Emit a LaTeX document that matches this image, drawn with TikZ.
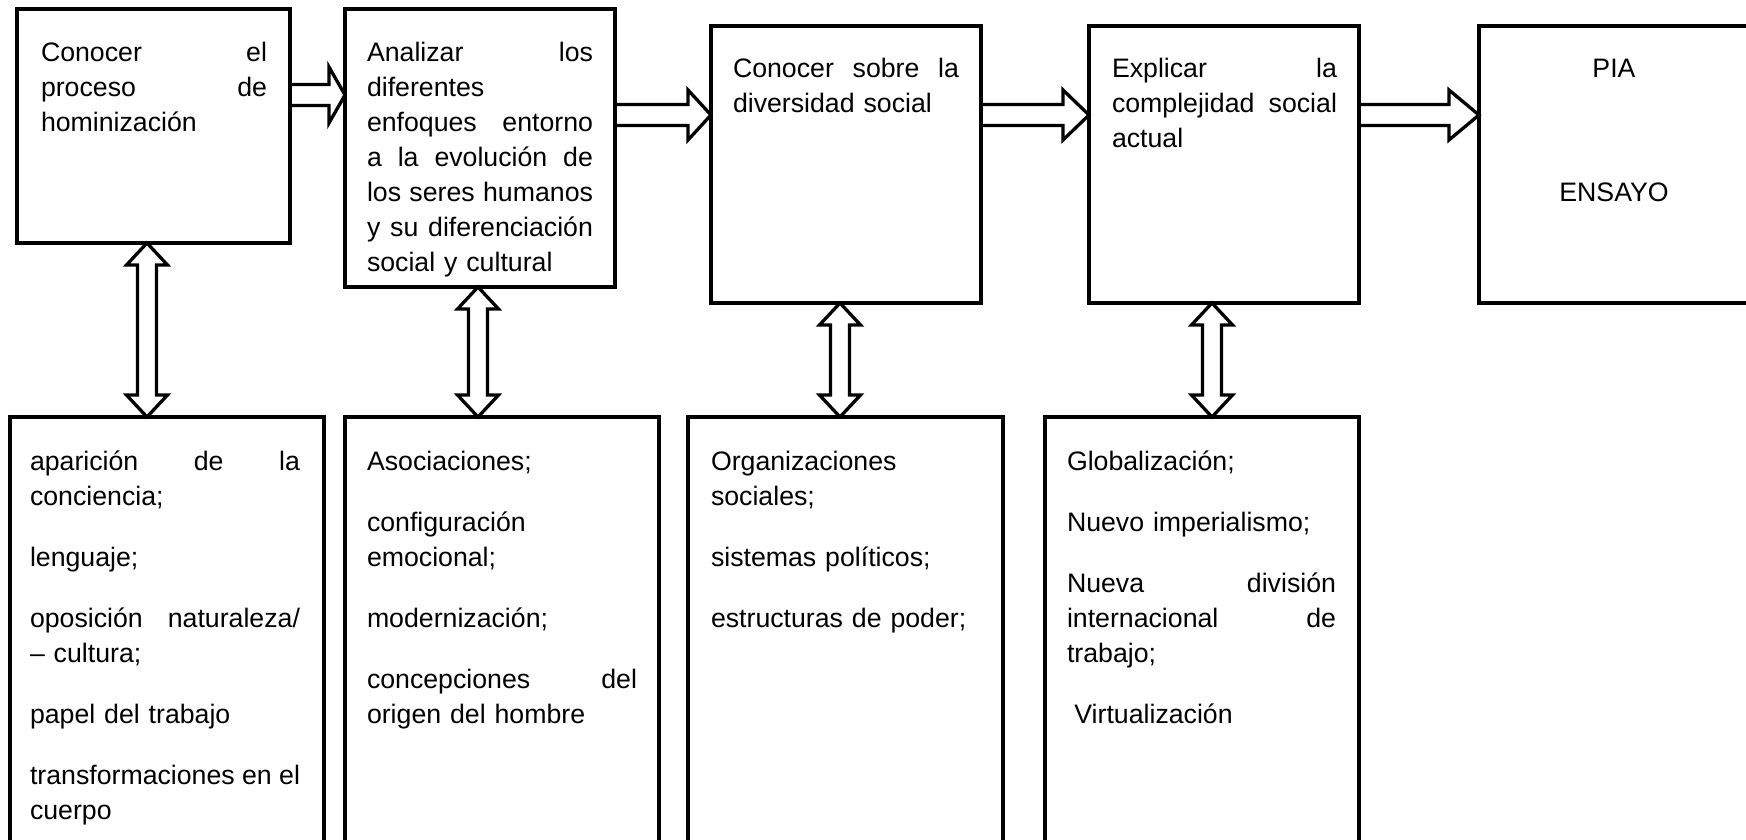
\documentclass[tikz,border=0pt]{standalone}
\usepackage{fontspec}
\setmainfont{Liberation Sans}
\usetikzlibrary{calc}
% a justified line: words separated by \hfill, set to the given width
\newcommand\JJ[2][226pt]{\leavevmode\hbox to #1{#2}}
\tikzset{
  x=1pt, y=1pt,
  box/.style={draw, line width=3.3pt, inner sep=0pt, outer sep=0pt, anchor=north west},
  txt/.style={inner sep=0pt, outer sep=0pt, anchor=north west, align=left,
              font=\fontsize{26.7}{35}\selectfont},
  ctxt/.style={txt, align=center},
  blk/.style={draw, line width=3.3pt, line join=miter},
}
% horizontal block arrow: from node, to node, centre y (px), head length, head half-height
\newcommand\harr[5]{\draw[blk] let \p1=(#1.east), \p2=(#2.west) in
  (\x1,{-#3pt+10.5pt}) -- ({\x2-#4pt},{-#3pt+10.5pt}) -- ({\x2-#4pt},{-#3pt+#5pt})
  -- (\x2,{-#3pt}) -- ({\x2-#4pt},{-#3pt-#5pt}) -- ({\x2-#4pt},{-#3pt-10.5pt})
  -- (\x1,{-#3pt-10.5pt});}
% vertical double block arrow: upper node, lower node, centre x (px)
\newcommand\varr[3]{\draw[blk] let \p1=(#1.south), \p2=(#2.north) in
  (#3pt,\y1) -- ({#3pt+20.5pt},{\y1-22pt}) -- ({#3pt+9.5pt},{\y1-22pt})
  -- ({#3pt+9.5pt},{\y2+22pt}) -- ({#3pt+20.5pt},{\y2+22pt}) -- (#3pt,\y2)
  -- ({#3pt-20.5pt},{\y2+22pt}) -- ({#3pt-9.5pt},{\y2+22pt})
  -- ({#3pt-9.5pt},{\y1-22pt}) -- ({#3pt-20.5pt},{\y1-22pt}) -- cycle;}
\begin{document}
\begin{tikzpicture}
\useasboundingbox (0,0) rectangle (1746,-840);
\clip (0,0) rectangle (1746,-840);
% top row boxes
\node[box, minimum width=273pt, minimum height=234pt] (t1) at (17,-9) {};
\node[box, minimum width=270pt, minimum height=278pt] (t2) at (345,-9) {};
\node[box, minimum width=270pt, minimum height=277pt] (t3) at (711,-26) {};
\node[box, minimum width=270pt, minimum height=277pt] (t4) at (1089,-26) {};
\node[box, minimum width=290pt, minimum height=277pt] (t5) at (1479,-26) {};
% bottom row boxes
\node[box, minimum width=314pt, minimum height=460pt] (b1) at (10,-417) {};
\node[box, minimum width=314pt, minimum height=460pt] (b2) at (345,-417) {};
\node[box, minimum width=315pt, minimum height=460pt] (b3) at (688,-417) {};
\node[box, minimum width=314pt, minimum height=460pt] (b4) at (1045,-417) {};
% top texts
\node[txt, text width=226pt] (x1) at (41,-37.5) {\strut\JJ{Conocer\hfill el}\\
\JJ{proceso\hfill de}\\
hominización};
\node[txt, text width=226pt] (x2) at (367,-37.5) {\strut\JJ{Analizar\hfill los}\\
diferentes\\
\JJ{enfoques\hfill entorno}\\
\JJ{a\hfill la\hfill evolución\hfill de}\\
\JJ{los\hfill seres\hfill humanos}\\
\JJ{y\hfill su\hfill diferenciación}\\
social y cultural};
\node[txt, text width=226pt] (x3) at (733,-53.5) {\strut\JJ{Conocer\hfill sobre\hfill la}\\
diversidad social};
\node[txt, text width=225pt] (x4) at (1112,-53.5) {\strut\JJ[225pt]{Explicar\hfill la}\\
\JJ[225pt]{complejidad\hfill social}\\
actual};
\node[ctxt, text width=222pt] (x5) at (1503,-53.5) {\strut PIA\\[89pt]
ENSAYO};
% bottom texts
\node[txt, text width=270pt] (y1) at (30,-445.5) {\strut\JJ[270pt]{aparición\hfill de\hfill la}\\
conciencia;\\[26pt]
lenguaje;\\[26pt]
\JJ[270pt]{oposición\hfill naturaleza/}\\
– cultura;\\[26pt]
papel del trabajo\\[26pt]
\JJ[270pt]{transformaciones\hfill en\hfill el}\\
cuerpo};
\node[txt, text width=270pt] (y2) at (367,-445.5) {\strut Asociaciones;\\[26pt]
configuración\\
emocional;\\[26pt]
modernización;\\[26pt]
\JJ[270pt]{concepciones\hfill del}\\
origen del hombre};
\node[txt, text width=270pt] (y3) at (711,-445.5) {\strut Organizaciones\\
sociales;\\[26pt]
sistemas políticos;\\[26pt]
estructuras de poder;};
\node[txt, text width=269pt] (y4) at (1067,-445.5) {\strut Globalización;\\[26pt]
Nuevo imperialismo;\\[26pt]
\JJ[269pt]{Nueva\hfill división}\\
\JJ[269pt]{internacional\hfill de}\\
trabajo;\\[26pt]
\hspace*{7.4pt}Virtualización};
% horizontal arrows
\harr{t1}{t2}{95}{16}{28}
\harr{t2}{t3}{115}{23}{25}
\harr{t3}{t4}{115}{26}{25}
\harr{t4}{t5}{115}{30}{25}
% vertical double arrows
\varr{t1}{b1}{147}
\varr{t2}{b2}{478}
\varr{t3}{b3}{840}
\varr{t4}{b4}{1212}
\end{tikzpicture}
\end{document}
